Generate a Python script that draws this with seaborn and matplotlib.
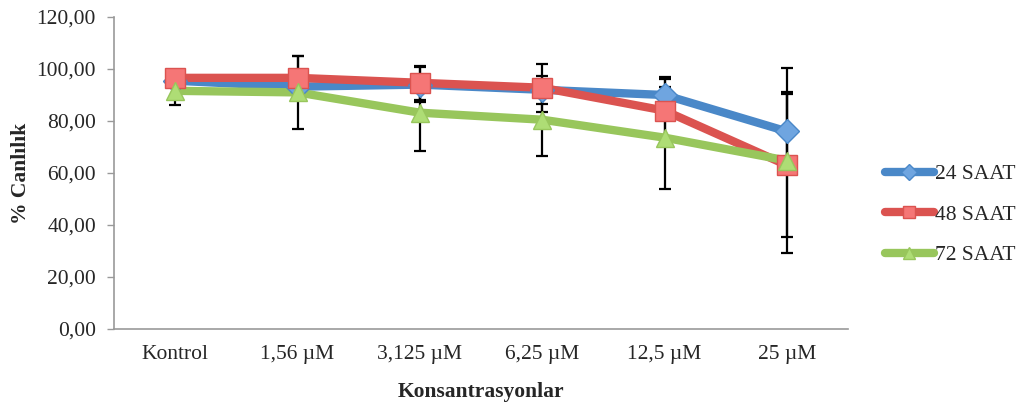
import numpy as np
import pandas as pd
import seaborn as sns
import matplotlib
matplotlib.use("Agg")
import matplotlib.pyplot as plt

categories = ["Kontrol", "1,56 µM", "3,125 µM", "6,25 µM", "12,5 µM", "25 µM"]
series_names = ["24 SAAT", "48 SAAT", "72 SAAT"]

mean_24 = [95.5, 93.2, 94.0, 92.0, 90.0, 76.0]
mean_48 = [96.6, 96.6, 94.7, 92.8, 84.0, 63.0]
mean_72 = [91.6, 91.0, 83.2, 80.5, 73.6, 64.8]

sd_24 = [1.5, 2.0, 6.6, 5.5, 7.0, 15.0]
sd_48 = [1.0, 8.5, 6.5, 9.2, 12.0, 27.5]
sd_72 = [5.3, 14.0, 14.6, 14.0, 19.6, 35.5]

y_ticks = [0, 20, 40, 60, 80, 100, 120]

colors = ["#4A88C8", "#DB5350", "#98C65C"]
face_colors = ["#6FA5E0", "#F57676", "#AEDD75"]
markers = ["D", "s", "^"]
marker_sizes = [12, 14, 13]

sns.set_theme(style="white")
plt.rcParams["font.family"] = ["Liberation Serif", "DejaVu Serif"]

means = [mean_24, mean_48, mean_72]
sds = [sd_24, sd_48, sd_72]

df = pd.DataFrame({
    "Konsantrasyon": categories * 3,
    "Canlilik": mean_24 + mean_48 + mean_72,
    "Seri": np.repeat(series_names, len(categories)),
})

fig = plt.figure(figsize=(10.2, 4.05), dpi=100)
ax = fig.add_axes([0.1118, 0.1877, 0.7196, 0.7703])

sns.lineplot(
    data=df, x="Konsantrasyon", y="Canlilik", hue="Seri",
    palette=colors, linewidth=6, sort=False, ax=ax, legend=False,
    zorder=3,
)

x_pos = np.arange(len(categories))
for i, (m, s) in enumerate(zip(means, sds)):
    ax.errorbar(x_pos, m, yerr=s, fmt="none", ecolor="black",
                elinewidth=1.6, capsize=4.5, capthick=1.6, zorder=2)

handles = []
for i, name in enumerate(series_names):
    line = ax.lines[i]
    line.set_solid_capstyle("round")
    line.set_zorder(3 + i)
    ax.plot(x_pos, means[i], linestyle="none", marker=markers[i],
            markersize=marker_sizes[i], markerfacecolor=face_colors[i],
            markeredgecolor=colors[i], markeredgewidth=1.0, zorder=6 + i)
    h, = ax.plot([], [], color=colors[i], linewidth=6,
                 solid_capstyle="round", marker=markers[i],
                 markersize=marker_sizes[i] * 0.65,
                 markerfacecolor=face_colors[i], markeredgecolor=colors[i])
    handles.append(h)

ax.set_xlim(-0.5, len(categories) - 0.5)
ax.set_ylim(0, 120)
ax.set_yticks(y_ticks)
ax.set_yticklabels([f"{v:.2f}".replace(".", ",") for v in y_ticks], fontsize=15.5)
ax.set_xticks(x_pos)
ax.set_xticklabels(categories, fontsize=15.5)

ax.tick_params(axis="y", which="both", left=True, length=5, width=1,
               color="#999999", pad=8)
ax.tick_params(axis="x", which="both", bottom=False, pad=5.5)

for side in ["top", "right"]:
    ax.spines[side].set_visible(False)
for side in ["left", "bottom"]:
    ax.spines[side].set_color("#999999")
    ax.spines[side].set_linewidth(1.2)

ax.set_ylabel("% Canlılık", fontsize=15.5, fontweight="bold", labelpad=4)
ax.set_xlabel("Konsantrasyonlar", fontsize=15.5, fontweight="bold", labelpad=13)

ax.legend(handles=handles, labels=series_names, loc="center left",
          bbox_to_anchor=(1.038, 0.366), frameon=False, fontsize=15.5,
          handlelength=2.3, handletextpad=0.05, labelspacing=0.95,
          borderaxespad=0)

fig.savefig("out.png", dpi=100)
